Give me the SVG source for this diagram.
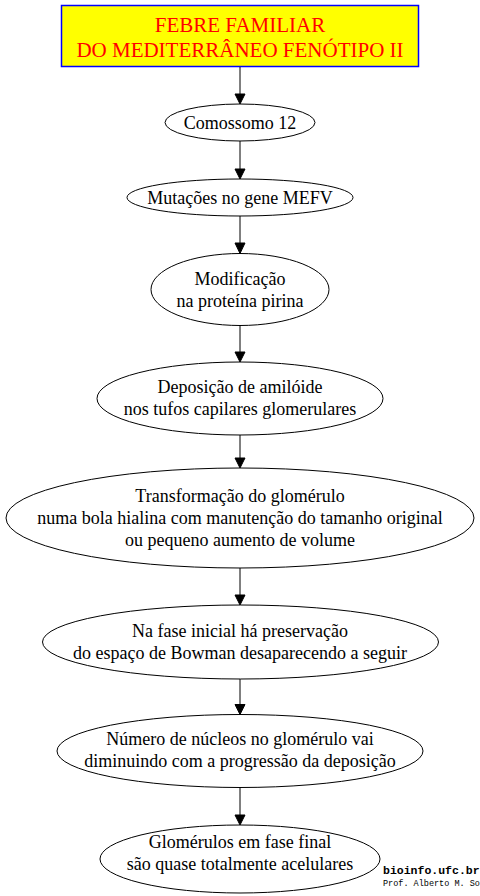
<svg xmlns="http://www.w3.org/2000/svg" width="480" height="896" viewBox="0 0 480 896">
<style>
.bg{fill:#ffffff}
.node ellipse{fill:none;stroke:#000;stroke-width:1}
.node text{font-family:"Liberation Serif","Times New Roman",serif;font-size:18px;fill:#000;text-anchor:middle}
.title rect{fill:#ffff00;stroke:#0000ff;stroke-width:1.5}
.title text{font-family:"Liberation Serif","Times New Roman",serif;font-size:21px;fill:#ff0000;text-anchor:middle}
.edge line{stroke:#000;stroke-width:1}
.edge polygon{fill:#000;stroke:#000;stroke-width:1}
.foot1{font-family:"Liberation Mono","DejaVu Sans Mono",monospace;font-size:11.5px;font-weight:bold;fill:#000}
.foot2{font-family:"Liberation Mono","DejaVu Sans Mono",monospace;font-size:8.5px;fill:#000}
</style>
<rect class="bg" x="0" y="0" width="480" height="896"/>
<g id="title" class="title">
<rect x="61.5" y="5.5" width="357" height="61"/>
<text x="240" y="32">FEBRE FAMILIAR</text>
<text x="240" y="57">DO MEDITERRÂNEO FENÓTIPO II</text>
</g>
<g id="n1" class="node">
<ellipse cx="240" cy="122.5" rx="75" ry="18.5"/>
<text x="240" y="128.5">Comossomo 12</text>
</g>
<g id="n2" class="node">
<ellipse cx="240" cy="197.5" rx="113" ry="18.5"/>
<text x="240" y="203.5">Mutações no gene MEFV</text>
</g>
<g id="n3" class="node">
<ellipse cx="240" cy="289.5" rx="89" ry="36"/>
<text x="240" y="285">Modificação</text>
<text x="240" y="307">na proteína pirina</text>
</g>
<g id="n4" class="node">
<ellipse cx="240" cy="398.5" rx="143" ry="36.5"/>
<text x="240" y="393">Deposição de amilóide</text>
<text x="240" y="415">nos tufos capilares glomerulares</text>
</g>
<g id="n5" class="node">
<ellipse cx="240" cy="518" rx="234" ry="50"/>
<text x="240" y="502">Transformação do glomérulo</text>
<text x="240" y="524">numa bola hialina com manutenção do tamanho original</text>
<text x="240" y="546">ou pequeno aumento de volume</text>
</g>
<g id="n6" class="node">
<ellipse cx="240.5" cy="642" rx="198" ry="37"/>
<text x="240" y="637">Na fase inicial há preservação</text>
<text x="240" y="659">do espaço de Bowman desaparecendo a seguir</text>
</g>
<g id="n7" class="node">
<ellipse cx="240" cy="751" rx="183" ry="36.5"/>
<text x="240" y="745">Número de núcleos no glomérulo vai</text>
<text x="240" y="767">diminuindo com a progressão da deposição</text>
</g>
<g id="n8" class="node">
<ellipse cx="240" cy="859" rx="140" ry="34"/>
<text x="240" y="848">Glomérulos em fase final</text>
<text x="240" y="870">são quase totalmente acelulares</text>
</g>
<g id="edges" class="edge">
<line x1="240" y1="67" x2="240" y2="94"/><polygon points="235,94 245,94 240,104"/>
<line x1="240" y1="141" x2="240" y2="169"/><polygon points="235,169 245,169 240,179"/>
<line x1="240" y1="216" x2="240" y2="243"/><polygon points="235,243 245,243 240,253.5"/>
<line x1="240" y1="325.5" x2="240" y2="352"/><polygon points="235,352 245,352 240,362"/>
<line x1="240" y1="435" x2="240" y2="458"/><polygon points="235,458 245,458 240,468"/>
<line x1="240" y1="568" x2="240" y2="595"/><polygon points="235,595 245,595 240,605"/>
<line x1="240" y1="679" x2="240" y2="704.5"/><polygon points="235,704.5 245,704.5 240,714.5"/>
<line x1="240" y1="787.5" x2="240" y2="815"/><polygon points="235,815 245,815 240,825"/>
</g>
<g id="footer">
<text class="foot1" x="383" y="874">bioinfo.ufc.br</text>
<text class="foot2" x="383" y="886">Prof. Alberto M. So</text>
</g>
</svg>
